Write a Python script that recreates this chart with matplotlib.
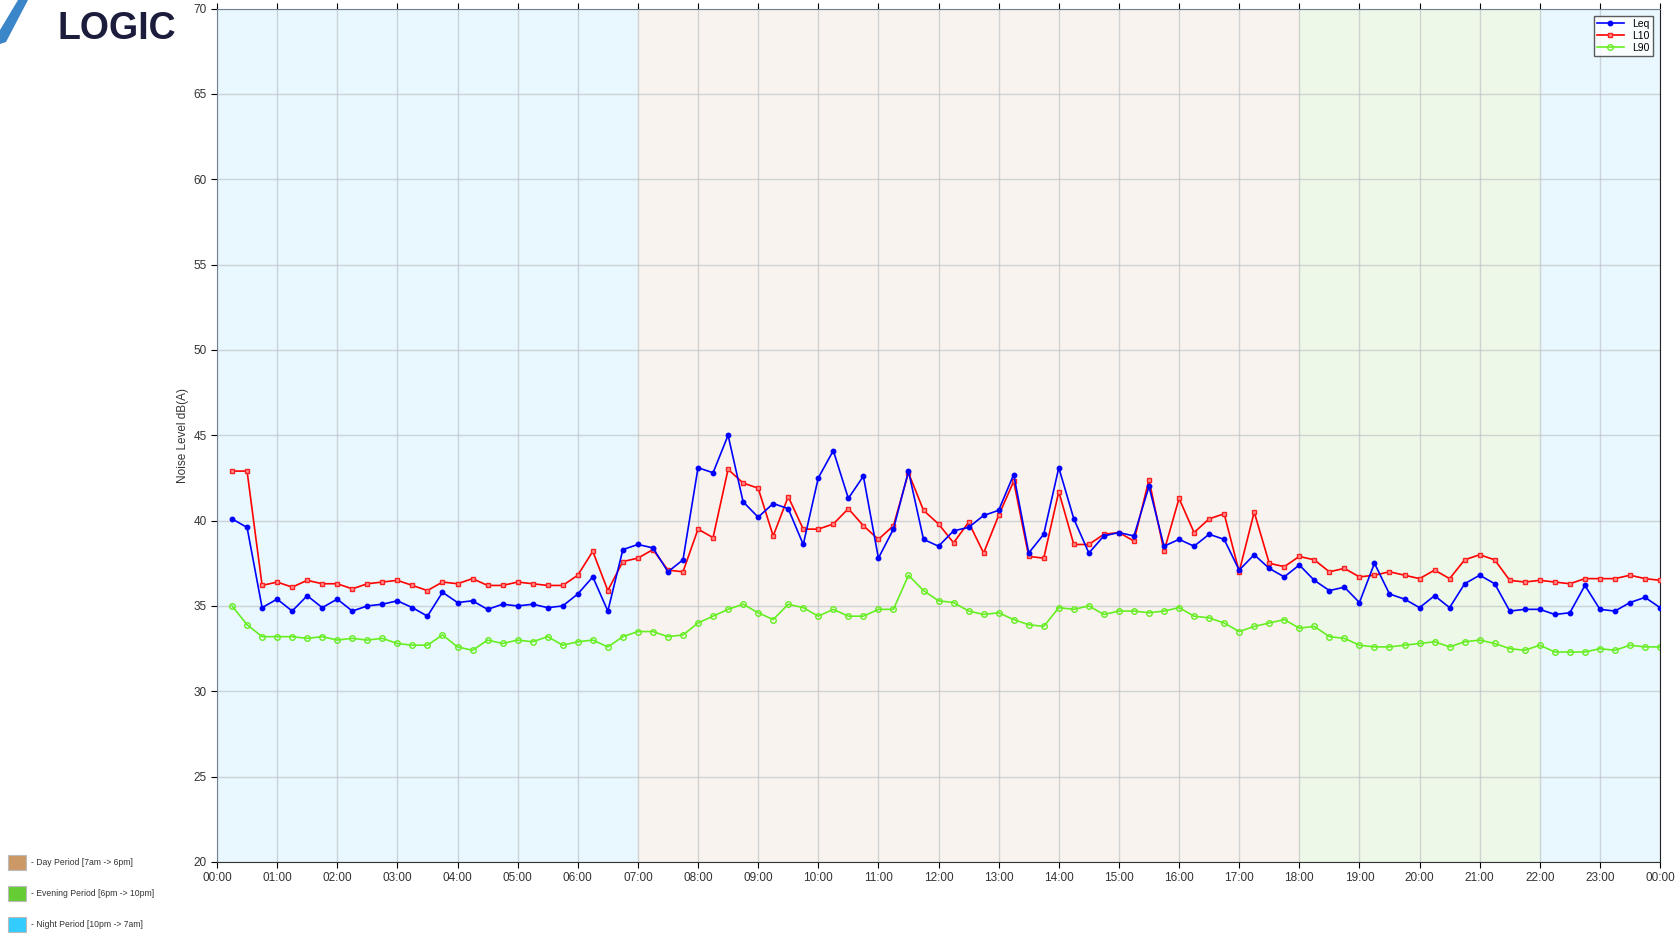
import numpy as np
import matplotlib.pyplot as plt
import matplotlib.patches as mpatches

# 15 minute intervals, 00:15 -> 24:00
leq = [40.1, 39.6, 34.9, 35.4, 34.7, 35.6, 34.9, 35.4, 34.7, 35.0, 35.1, 35.3, 34.9, 34.4,
       35.8, 35.2, 35.3, 34.8, 35.1, 35.0, 35.1, 34.9, 35.0, 35.7, 36.7, 34.7, 38.3, 38.6,
       38.4, 37.0, 37.7, 43.1, 42.8, 45.0, 41.1, 40.2, 41.0, 40.7, 38.6, 42.5, 44.1, 41.3,
       42.6, 37.8, 39.5, 42.9, 38.9, 38.5, 39.4, 39.6, 40.3,
       40.6, 42.7, 38.1, 39.2, 43.1, 40.1, 38.1, 39.1, 39.3, 39.1, 42.0, 38.5, 38.9, 38.5,
       39.2, 38.9, 37.1, 38.0, 37.2,
       36.7, 37.4, 36.5, 35.9, 36.1, 35.2, 37.5, 35.7, 35.4, 34.9, 35.6, 34.9, 36.3, 36.8,
       36.3, 34.7, 34.8, 34.8, 34.5, 34.6, 36.2, 34.8, 34.7, 35.2, 35.5, 34.9]
l10 = [42.9, 42.9, 36.2, 36.4, 36.1, 36.5, 36.3, 36.3, 36.0, 36.3, 36.4, 36.5, 36.2, 35.9,
       36.4, 36.3, 36.6, 36.2, 36.2, 36.4, 36.3, 36.2, 36.2, 36.8, 38.2, 35.9, 37.6, 37.8,
       38.3, 37.1, 37.0, 39.5, 39.0, 43.0, 42.2, 41.9, 39.1, 41.4, 39.5, 39.5, 39.8, 40.7,
       39.7, 38.9, 39.7, 42.8, 40.6, 39.8, 38.7, 39.9, 38.1,
       40.3, 42.3, 37.9, 37.8, 41.7, 38.6, 38.6, 39.2, 39.3, 38.8, 42.4, 38.2, 41.3, 39.3,
       40.1, 40.4, 37.0, 40.5, 37.5,
       37.3, 37.9, 37.7, 37.0, 37.2, 36.7, 36.8, 37.0, 36.8, 36.6, 37.1, 36.6, 37.7, 38.0,
       37.7, 36.5, 36.4, 36.5, 36.4, 36.3, 36.6, 36.6, 36.6, 36.8, 36.6, 36.5]
l90 = [35.0, 33.9, 33.2, 33.2, 33.2, 33.1, 33.2, 33.0, 33.1, 33.0, 33.1, 32.8, 32.7, 32.7,
       33.3, 32.6, 32.4, 33.0, 32.8, 33.0, 32.9, 33.2, 32.7, 32.9, 33.0, 32.6, 33.2, 33.5,
       33.5, 33.2, 33.3, 34.0, 34.4, 34.8, 35.1, 34.6, 34.2, 35.1, 34.9, 34.4, 34.8, 34.4,
       34.4, 34.8, 34.8, 36.8, 35.9, 35.3, 35.2, 34.7, 34.5,
       34.6, 34.2, 33.9, 33.8, 34.9, 34.8, 35.0, 34.5, 34.7, 34.7, 34.6, 34.7, 34.9, 34.4,
       34.3, 34.0, 33.5, 33.8, 34.0,
       34.2, 33.7, 33.8, 33.2, 33.1, 32.7, 32.6, 32.6, 32.7, 32.8, 32.9, 32.6, 32.9, 33.0,
       32.8, 32.5, 32.4, 32.7, 32.3, 32.3, 32.3, 32.5, 32.4, 32.7, 32.6, 32.6]

hours = np.arange(1, len(leq) + 1) * 0.25
xticklabels = ['%02d:00' % (h % 24) for h in range(25)]

# periods: (start, end, colour)
periods = [(0, 7, '#e8f8fe'), (7, 18, '#f8f3ef'), (18, 22, '#eef8e8'), (22, 24, '#e8f8fe')]
period_keys = [('#cc9966', '- Day Period [7am -> 6pm]'),
               ('#66cc33', '- Evening Period [6pm -> 10pm]'),
               ('#33ccff', '- Night Period [10pm -> 7am]')]

plt.rcParams['font.family'] = ['Liberation Sans', 'DejaVu Sans']
fig = plt.figure(figsize=(16.77, 9.35), dpi=100)
ax = fig.add_axes([0.1294, 0.0781, 0.8605, 0.9128])

for s, e, c in periods:
    ax.axvspan(s, e, color=c, zorder=0, lw=0)

ax.grid(True, color='#b8bcc0', lw=1, alpha=0.6, zorder=1)
ax.plot(hours, leq, color='#0000ff', lw=1.2, marker='o', ms=3.2, label='Leq', zorder=4)
ax.plot(hours, l10, color='#ff0000', lw=1.2, marker='s', ms=3.5, mfc='#ff9090',
        mec='#ff2020', mew=1, label='L10', zorder=3)
ax.plot(hours, l90, color='#66ee22', lw=1.2, marker='o', ms=4, mfc='none',
        mec='#66ee22', mew=1, label='L90', zorder=2)

ax.set_xlim(0, 24)
ax.set_ylim(20, 70)
ax.set_xticks(range(25))
ax.set_xticklabels(xticklabels, fontsize=8.5, color='#333333')
ax.set_yticks(range(20, 71, 5))
ax.tick_params(axis='y', labelsize=8.5, labelcolor='#333333', length=4)
ax.tick_params(axis='x', length=4, top=True)
ax.set_ylabel('Noise Level dB(A)', fontsize=8.5, color='#333333', labelpad=3)
for side in ['left', 'top']:
    ax.spines[side].set_color('#708090')
ax.spines['bottom'].set_color('#333333')
ax.spines['right'].set_color('#222222')

leg = ax.legend(loc='upper right', fontsize=7.5, frameon=True, fancybox=False,
                edgecolor='#333333', handlelength=2.6, borderpad=0.3, labelspacing=0.2,
                borderaxespad=0.7)
leg.get_frame().set_linewidth(1)

# period key at bottom left
for i, (c, txt) in enumerate(period_keys):
    y0 = 1 - (870 + i * 31) / 935
    fig.patches.append(mpatches.Rectangle((8 / 1677, y0), 18 / 1677, 15 / 935,
                                          facecolor=c, edgecolor='#bbbbbb', lw=0.8,
                                          transform=fig.transFigure, figure=fig))
    fig.text(31 / 1677, y0 + 7.5 / 935, txt, fontsize=6.2, color='#333333', va='center')

# logo (top line cut by the page edge)
fig.text(57 / 1677, 1 - 29 / 935, 'LOGIC', fontsize=27, fontweight='bold',
         color='#1c1c3c', va='center')
fig.text(57 / 1677, 1 + 10 / 935, 'ACOUSTIC', fontsize=27, fontweight='bold',
         color='#1c1c3c', va='center')
fig.patches.append(mpatches.Polygon([(0, 1 - 30 / 935), (18 / 1677, 1), (28 / 1677, 1),
                                     (6 / 1677, 1 - 42 / 935), (0, 1 - 44 / 935)],
                                    closed=True, facecolor='#3b86c8', edgecolor='none',
                                    transform=fig.transFigure, figure=fig))

plt.savefig('out.png', dpi=100)
